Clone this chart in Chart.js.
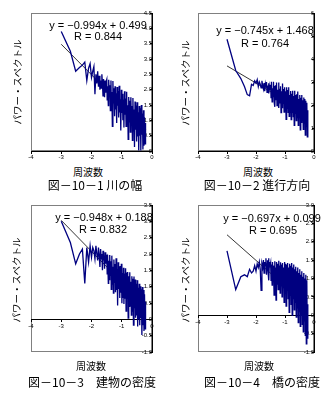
<!DOCTYPE html>
<html>
<head>
<meta charset="utf-8">
<script src="https://cdn.jsdelivr.net/npm/chart.js@4.4.1/dist/chart.umd.min.js"></script>
<style>
  body { margin: 0; background: #fff; }
  #page { position: relative; width: 335px; height: 396px; overflow: hidden; }
  canvas { position: absolute; }
  .t { position: absolute; transform: translate(-50%, -50%); white-space: nowrap; color: #000; }
  .eq { font: 11px "Liberation Sans", Arial, sans-serif; }
  .jp { font-family: "Noto Sans CJK JP", sans-serif; }
  .xt { font-size: 10px; }
  .cap { font-size: 12px; }
  .yt { font-size: 9.5px; transform: translate(-50%, -50%) rotate(-90deg); }
</style>
</head>
<body>
<div id="page">
  <canvas id="c1" width="145" height="162" style="left:19px;top:1px"></canvas>
  <canvas id="c2" width="140" height="162" style="left:186px;top:1px"></canvas>
  <canvas id="c3" width="145" height="171" style="left:19px;top:193px"></canvas>
  <canvas id="c4" width="140" height="171" style="left:186px;top:193px"></canvas>

  <div class="t eq" style="left:98px;top:25px">y = −0.994x + 0.499</div>
  <div class="t eq" style="left:98px;top:36px">R = 0.844</div>
  <div class="t eq" style="left:265px;top:30px">y = −0.745x + 1.468</div>
  <div class="t eq" style="left:265px;top:43px">R = 0.764</div>
  <div class="t eq" style="left:104px;top:217px">y = −0.948x + 0.188</div>
  <div class="t eq" style="left:103px;top:229px">R = 0.832</div>
  <div class="t eq" style="left:272px;top:218px">y = −0.697x + 0.099</div>
  <div class="t eq" style="left:273px;top:230px">R = 0.695</div>

  <div class="t jp yt" style="left:17px;top:82px">パワー・スペクトル</div>
  <div class="t jp yt" style="left:185px;top:83px">パワー・スペクトル</div>
  <div class="t jp yt" style="left:16px;top:280px">パワー・スペクトル</div>
  <div class="t jp yt" style="left:185px;top:280px">パワー・スペクトル</div>

  <div class="t jp xt" style="left:88px;top:171px">周波数</div>
  <div class="t jp xt" style="left:258px;top:171px">周波数</div>
  <div class="t jp xt" style="left:91px;top:365px">周波数</div>
  <div class="t jp xt" style="left:259px;top:365px">周波数</div>

  <div class="t jp cap" style="left:95px;top:184px">図－10－1 川の幅</div>
  <div class="t jp cap" style="left:257px;top:184px">図－10－2 進行方向</div>
  <div class="t jp cap" style="left:92px;top:381px">図－10－3　建物の密度</div>
  <div class="t jp cap" style="left:262px;top:381px">図－10－4　橋の密度</div>
</div>
<script>
// frequency index k (x axis shows log10(k/1000))
const freqIndex = [1,2,3,4,5,6,7,8,9,10,11,12,13,14,15,16,17,18,19,20,21,22,23,24,25,26,27,28,29,30,
  32,33,34,36,37,39,40,42,44,45,47,49,51,53,55,58,60,62,65,68,70,73,76,79,82,86,89,93,97,101,
  105,109,114,118,123,128,134,139,145,151,157,163,170,177,184,192,200,208,216,225,234,244,254,264,275,286,298,310,323,336,
  350,364,379,394,410,427,445,463,482,501,522,543,565,588,612];

const xTickValues = [0.1, 1, 10, 100, 1000];
const xTickLabels = ['-4', '-3', '-2', '-1', '0'];

// 川の幅
const power1 = [3.9,3.25,2.6,2.72,2.8,2.9,2.3,2.7,2.85,2.4,2.6,2.75,1.85,2.5,2.2,2.6,2.1,2.45,2.0,2.3,2.05,2.5,2.2,1.8,2.35,2.1,1.75,2.3,1.9,2.2,
  2.33,1.67,2.11,1.48,2.32,1.80,2.14,1.32,2.30,1.59,
  1.92,0.80,2.28,1.57,2.05,1.13,2.11,1.35,1.88,0.91,
  2.09,1.48,1.96,1.09,2.13,1.26,1.69,0.67,2.00,1.24,
  1.87,1.00,1.68,0.77,1.95,1.18,1.71,0.80,1.93,0.91,
  1.49,0.38,1.76,0.95,1.64,0.62,1.75,0.93,1.47,0.35,
  1.73,0.66,1.35,0.13,1.61,0.69,1.48,0.31,1.59,0.47,
  1.26,0.02,1.47,0.50,1.39,0.02,1.50,0.53,1.22,0.05,
  1.33,0.17,1.10,0.23,0.91];

// 進行方向
const power2 = [4.86,3.5,3.15,2.8,2.45,2.4,2.9,2.85,3.05,2.95,3.1,2.8,3.0,2.9,2.75,3.05,2.85,2.7,2.95,2.6,2.9,2.75,3.0,2.55,2.85,2.7,2.95,2.5,2.8,2.65,
  2.88,2.32,3.01,2.14,2.73,2.37,3.01,2.15,2.83,1.92,
  2.86,2.24,2.98,1.97,2.66,2.09,2.98,1.87,2.70,2.09,
  2.82,1.67,2.60,1.89,2.93,2.07,2.70,1.69,2.77,1.86,
  2.60,1.38,2.77,1.86,2.65,1.68,2.77,1.51,2.44,1.68,
  2.61,1.36,2.49,1.68,2.62,1.50,2.39,1.12,2.62,1.65,
  2.44,1.32,2.47,1.45,2.59,1.12,2.26,1.45,2.43,0.92,
  2.31,1.25,2.43,1.32,2.21,0.94,2.33,1.21,2.26,0.69,
  2.18,1.07,2.10,0.62,1.77];

// 建物の密度
const power3 = [3.0,2.35,1.7,2.0,2.15,1.1,2.2,1.75,2.25,1.9,2.2,2.1,1.85,2.25,2.0,1.8,2.2,1.95,1.6,2.15,1.85,2.0,1.5,2.1,1.8,1.95,1.55,2.05,1.7,1.9,
  1.95,1.39,1.98,1.10,1.79,1.22,1.97,1.35,1.78,0.92,
  1.95,1.08,1.61,0.80,1.83,1.11,1.69,0.83,1.87,0.90,
  1.53,0.42,1.75,0.93,1.62,0.65,1.63,0.81,1.70,0.49,
  1.42,0.65,1.58,0.47,1.40,0.63,1.56,0.25,1.43,0.67,
  1.45,0.04,1.32,0.40,1.44,0.42,1.15,0.13,1.32,0.25,
  1.24,-0.18,1.31,0.34,1.22,0.05,1.09,0.12,1.20,-0.22,
  0.97,0.00,1.09,-0.18,1.01,0.04,0.92,-0.48,0.99,-0.18,
  0.90,-0.36,0.77,-0.29,0.54];

// 橋の密度
const power4 = [1.75,0.7,1.05,1.1,1.05,1.25,1.15,1.2,1.35,1.2,1.4,1.3,1.45,1.25,0.68,1.4,1.3,1.5,1.15,1.45,1.35,1.55,1.1,1.4,1.5,1.2,1.55,0.95,1.45,1.3,
  1.42,0.95,1.38,0.82,1.45,1.00,1.35,0.55,1.47,0.90,
  1.30,0.41,1.45,0.85,1.40,0.70,1.48,0.95,1.35,0.60,
  1.44,0.80,1.38,0.50,1.42,0.75,1.30,0.35,1.45,0.65,
  1.40,0.25,1.38,0.70,1.42,0.45,1.30,0.08,1.40,0.55,
  1.35,0.30,1.42,0.00,1.30,0.45,1.38,0.15,1.25,0.35,
  1.32,-0.05,1.20,0.20,1.30,-0.20,1.15,0.10,1.25,-0.30,
  1.10,0.00,1.20,-0.25,1.05,-0.45,1.15,-0.15,1.00,-0.55,
  1.10,-0.78,0.95,-0.62,0.30];

// regression line end points, at k = 1 and k = 612
const trendFreq = [1, 612];
const trend1 = [3.48, 0.71];
const trend2 = [3.70, 1.62];
const trend3 = [3.03, 0.39];
const trend4 = [2.19, 0.25];

const tickFont = { size: 6, family: 'Liberation Sans' };

// grey box round the plot area
const framePlugin = {
    id: 'frame',
    beforeDraw(chart) {
        const { ctx, chartArea: a } = chart;
        ctx.save();
        ctx.strokeStyle = '#808080';
        ctx.lineWidth = 1;
        ctx.strokeRect(a.left + 0.5, a.top + 0.5, a.width - 1, a.height - 1);
        ctx.restore();
    }
};

function makePanel(id, values, trend, yMin, yMax, yStep) {
    const points = freqIndex.map((k, i) => ({ x: k, y: values[i] }));
    const trendPoints = trendFreq.map((k, i) => ({ x: k, y: trend[i] }));
    return new Chart(document.getElementById(id), {
        type: 'line',
        data: {
            datasets: [{
                data: points,
                borderColor: '#000080',
                borderWidth: 1.3,
                pointRadius: 0,
                tension: 0
            }, {
                data: trendPoints,
                borderColor: '#000',
                borderWidth: 0.8,
                pointRadius: 0
            }]
        },
        options: {
            responsive: false,
            animation: false,
            devicePixelRatio: 1,
            layout: { padding: 12 },
            plugins: { legend: { display: false }, tooltip: { enabled: false } },
            scales: {
                x: {
                    type: 'logarithmic',
                    min: 0.1,
                    max: 1000,
                    position: { y: 0 },
                    afterBuildTicks: scale => {
                        scale.ticks = xTickValues.map(v => ({ value: v }));
                    },
                    ticks: {
                        font: tickFont,
                        color: '#000',
                        padding: 1,
                        maxRotation: 0,
                        autoSkip: false,
                        callback: v => xTickLabels[xTickValues.indexOf(v)]
                    },
                    grid: { drawOnChartArea: false, tickLength: 2, color: '#000' },
                    border: { color: '#000' }
                },
                y: {
                    min: yMin,
                    max: yMax,
                    position: { x: 1000 },
                    ticks: { stepSize: yStep, font: tickFont, color: '#000', padding: 1 },
                    grid: { drawOnChartArea: false, tickLength: 2, color: '#000' },
                    border: { color: '#000' }
                }
            }
        },
        plugins: [framePlugin]
    });
}

makePanel('c1', power1, trend1, 0, 4.5, 0.5);
makePanel('c2', power2, trend2, 0, 6, 1);
makePanel('c3', power3, trend3, -1, 3.5, 0.5);
makePanel('c4', power4, trend4, -1, 3, 0.5);
</script>
</body>
</html>
